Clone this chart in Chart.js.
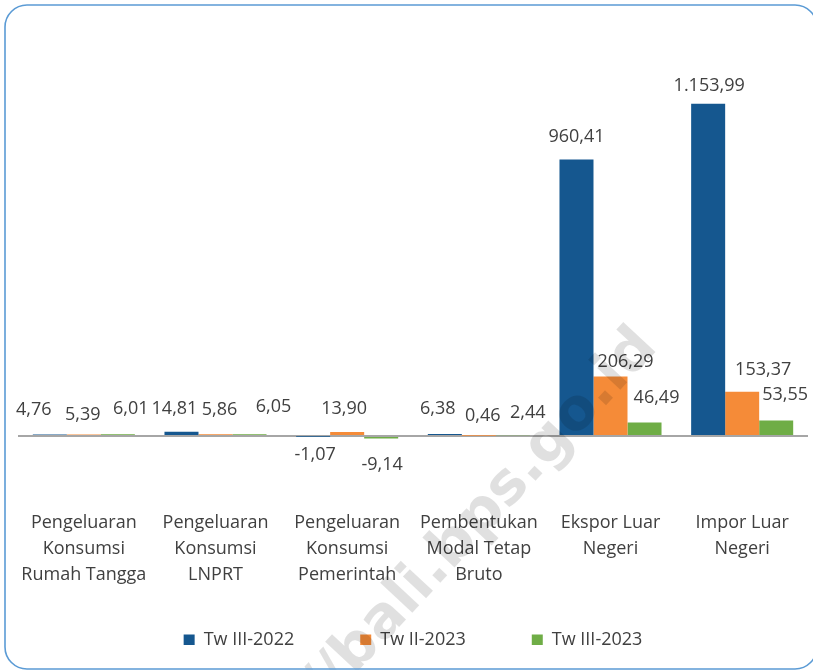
<!DOCTYPE html>
<html><head><meta charset="utf-8">
<script src="https://cdn.jsdelivr.net/npm/chart.js@4.4.0/dist/chart.umd.min.js"></script>
<style>html,body{margin:0;padding:0;background:#fff;overflow:hidden}#wrap{width:813px;height:670px;position:relative}</style>
</head><body><div id="wrap"><canvas id="c" width="813" height="670"></canvas></div>
<script>
// ---- data ----
const categories = [
  ["Pengeluaran", "Konsumsi", "Rumah Tangga"],
  ["Pengeluaran", "Konsumsi", "LNPRT"],
  ["Pengeluaran", "Konsumsi", "Pemerintah"],
  ["Pembentukan", "Modal Tetap", "Bruto"],
  ["Ekspor Luar", "Negeri"],
  ["Impor Luar", "Negeri"]
];
const seriesNames = ["Tw III-2022", "Tw II-2023", "Tw III-2023"];
const twIII2022 = [4.76, 14.81, -1.07, 6.38, 960.41, 1153.99];
const twII2023  = [5.39, 5.86, 13.90, 0.46, 206.29, 153.37];
const twIII2023 = [6.01, 6.05, -9.14, 2.44, 46.49, 53.55];

// ---- styling ----
const colors = ["#15578F", "#F58B38", "#6FAD46"];
const textColor = "#404040";
const FONT = "'Open Sans', 'Noto Sans', sans-serif";
// small label nudges (px) mimicking the original label placement
const labelNudge = [
  [[-16,-2],[-7,0],[2,-1],[-7,-2],[0,0],[1,5]],
  [[-1,3],[4,-1],[-3,0],[4,3],[15,8],[21,1]],
  [[13,-2],[24,-4],[1,6],[15,1],[12,-2],[9,-3]]
];

function fmt(v){
  const neg = v < 0;
  let [i, d] = Math.abs(v).toFixed(2).split('.');
  i = i.replace(/\B(?=(\d{3})+(?!\d))/g, '.');
  return (neg ? '-' : '') + i + ',' + d;
}

const dataLabels = {
  id: 'dataLabels',
  afterDatasetsDraw(chart){
    const ctx = chart.ctx;
    ctx.save();
    ctx.font = "18px " + FONT;
    ctx.fillStyle = textColor;
    ctx.textAlign = 'center';
    ctx.textBaseline = 'middle';
    chart.data.datasets.forEach((ds, di) => {
      const meta = chart.getDatasetMeta(di);
      meta.data.forEach((bar, i) => {
        const v = ds.data[i];
        const n = labelNudge[di][i];
        const y = v >= 0 ? bar.y - 23 : bar.y + 20;
        ctx.fillText(fmt(v), bar.x + n[0], y + n[1]);
      });
    });
    ctx.restore();
  }
};

// lift the legend so it sits closer to the category labels
const legendLift = {
  id: 'legendLift',
  afterLayout(chart){
    const lg = chart.legend;
    if (lg) { lg.top -= 25; lg.bottom -= 25; }
  }
};

const frame = {
  id: 'frame',
  beforeDraw(chart){
    const ctx = chart.ctx;
    ctx.save();
    ctx.fillStyle = '#fff';
    ctx.fillRect(0, 0, chart.width, chart.height);
    ctx.restore();
  },
  afterDraw(chart){
    const ctx = chart.ctx;
    ctx.save();
    // watermark
    ctx.translate(481, 517);
    ctx.rotate(-47 * Math.PI / 180);
    ctx.font = "bold 58px 'DejaVu Sans', sans-serif";
    ctx.fillStyle = 'rgba(0,0,0,0.12)';
    ctx.textAlign = 'center';
    ctx.textBaseline = 'middle';
    ctx.fillText('//bali.bps.go.id', 0, 0);
    ctx.restore();
    // rounded border
    ctx.save();
    ctx.strokeStyle = '#5B9BD5';
    ctx.lineWidth = 1.6;
    ctx.beginPath();
    ctx.roundRect(5, 5, 812, 664, 22);
    ctx.stroke();
    ctx.restore();
  }
};

new Chart(document.getElementById('c'), {
  type: 'bar',
  data: {
    labels: categories,
    datasets: [
      { label: seriesNames[0], data: twIII2022, backgroundColor: colors[0] },
      { label: seriesNames[1], data: twII2023, backgroundColor: colors[1] },
      { label: seriesNames[2], data: twIII2023, backgroundColor: colors[2] }
    ]
  },
  options: {
    responsive: false,
    animation: false,
    devicePixelRatio: 1,
    categoryPercentage: 0.775,
    barPercentage: 1.0,
    layout: { padding: { left: 18, right: 5, top: 33, bottom: 0 } },
    plugins: {
      tooltip: { enabled: false },
      legend: {
        position: 'bottom',
        maxHeight: 80,
        labels: {
          boxWidth: 11, boxHeight: 11, padding: 66,
          color: textColor,
          font: { family: FONT, size: 18 }
        }
      }
    },
    scales: {
      x: {
        grid: { display: false, drawTicks: false },
        border: { display: false },
        ticks: {
          color: textColor, padding: 16, maxRotation: 0, autoSkip: false,
          font: { family: FONT, size: 18, lineHeight: 1.45 }
        },
        afterFit(s){ s.height = 96.5; }
      },
      y: {
        min: -200, max: 1400,
        ticks: { display: false, stepSize: 200 },
        border: { display: false },
        grid: {
          drawTicks: false,
          lineWidth: 2,
          color: (c) => (c.tick && c.tick.value === 0) ? '#A6A6A6' : 'rgba(0,0,0,0)'
        },
        afterFit(s){ s.width = 0; }
      }
    }
  },
  plugins: [dataLabels, legendLift, frame]
});
</script>
</body></html>
